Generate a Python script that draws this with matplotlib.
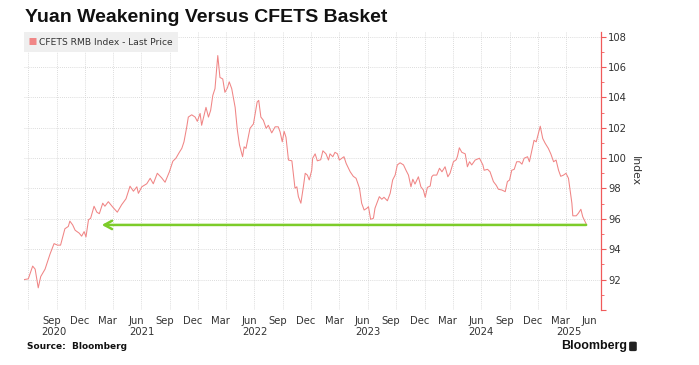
import matplotlib
matplotlib.use("Agg")
import matplotlib.pyplot as plt
import matplotlib.dates as mdates
from matplotlib.patches import FancyBboxPatch
from matplotlib.ticker import FixedLocator, FuncFormatter
import numpy as np
import pandas as pd

# CFETS RMB index (days after 2020-07-01, index level)
base_date = pd.Timestamp("2020-07-01")
days = [
    -13, 1, 15, 23, 33, 41, 55, 71, 84, 95, 105, 119, 130, 135, 144, 152, 165, 173, 181, 187,
    195, 202, 213, 222, 230, 241, 248, 259, 273, 288, 302, 316, 329, 340, 351, 356, 367, 383,
    394, 404, 417, 431, 442, 456, 467, 477, 488, 496, 503, 512, 517, 528, 539, 546, 555, 560,
    574, 582, 589, 596, 603, 612, 619, 628, 635, 643, 649, 657, 668, 675, 682, 692, 697, 703,
    716, 727, 739, 744, 751, 759, 768, 775, 786, 797, 807, 813, 820, 826, 832, 840, 851, 861,
    867, 872, 880, 888, 894, 901, 907, 915, 918, 926, 933, 944, 951, 961, 969, 974, 983, 990,
    998, 1004, 1012, 1019, 1026, 1039, 1049, 1058, 1069, 1076, 1084, 1093, 1098, 1105, 1114,
    1119, 1127, 1133, 1141, 1148, 1159, 1168, 1176, 1184, 1191, 1200, 1211, 1219, 1227, 1235,
    1241, 1248, 1259, 1267, 1275, 1281, 1288, 1297, 1302, 1307, 1318, 1327, 1335, 1345, 1354,
    1361, 1372, 1381, 1385, 1391, 1399, 1410, 1417, 1424, 1431, 1442, 1456, 1467, 1471, 1482,
    1490, 1501, 1510, 1517, 1528, 1539, 1546, 1553, 1560, 1568, 1576, 1585, 1593, 1600, 1611,
    1617, 1625, 1632, 1639, 1646, 1652, 1660, 1668, 1678, 1686, 1695, 1703, 1711, 1718, 1727,
    1735, 1743, 1748, 1754, 1757, 1768, 1775, 1783, 1789, 1800,
]
index_values = [
    92.0, 92.05, 92.89, 92.69, 91.46, 92.2, 92.69, 93.68, 94.37, 94.27, 94.27, 95.35, 95.5,
    95.85, 95.6, 95.25, 95.06, 94.86, 95.16, 94.81, 95.94, 96.04, 96.83, 96.44, 96.34, 97.03,
    96.83, 97.13, 96.78, 96.44, 96.93, 97.32, 98.15, 97.82, 98.11, 97.68, 98.11, 98.31, 98.67,
    98.31, 99.0, 98.7, 98.41, 99.1, 99.79, 99.99, 100.38, 100.64, 101.07, 102.06, 102.7,
    102.85, 102.7, 102.42, 102.94, 102.16, 103.34, 102.7, 103.14, 104.13, 104.57, 106.75,
    105.31, 105.21, 104.33, 104.62, 105.02, 104.57, 103.34, 101.86, 100.87, 100.09, 100.74,
    100.64, 101.96, 102.25, 103.69, 103.8, 102.7, 102.49, 101.96, 102.16, 101.66, 102.06,
    102.06, 101.72, 101.07, 101.76, 101.37, 99.87, 99.82, 98.02, 98.11, 97.46, 97.03, 98.11,
    99.0, 98.88, 98.56, 99.2, 99.99, 100.28, 99.82, 99.89, 100.48, 100.28, 99.87, 100.28,
    100.09, 100.38, 100.28, 99.87, 99.99, 100.09, 99.65, 99.1, 98.8, 98.67, 98.02, 97.03,
    96.58, 96.7, 96.8, 95.97, 96.04, 96.7, 97.13, 97.46, 97.29, 97.42, 97.19, 97.68, 98.56,
    98.88, 99.55, 99.69, 99.55, 99.2, 98.88, 98.11, 98.61, 98.29, 98.77, 98.11, 97.9, 97.42,
    98.07, 98.16, 98.77, 98.88, 98.88, 99.33, 99.1, 99.43, 98.77, 99.0, 99.76, 99.89, 100.12,
    100.68, 100.38, 100.28, 99.43, 99.76, 99.55, 99.87, 99.99, 99.55, 99.2, 99.26, 99.1,
    98.45, 98.21, 97.95, 97.9, 97.79, 98.45, 98.56, 99.2, 99.26, 99.76, 99.76, 99.6, 99.99,
    100.09, 99.76, 100.52, 101.17, 101.07, 101.62, 102.1, 101.29, 100.97, 100.64, 100.28,
    99.76, 99.87, 99.2, 98.8, 98.88, 99.0, 98.67, 97.9, 97.03, 96.2, 96.2, 96.37, 96.63,
    96.14, 95.67,
]

# green reference arrow: from the latest print back to the same level in early 2021
arrow_level = 95.6
arrow_from_day = 1800
arrow_to_day = 238

y_ticks = [90, 92, 94, 96, 98, 100, 102, 104, 106, 108]
month_labels = ["Sep", "Dec", "Mar", "Jun"]
years = [2020, 2021, 2022, 2023, 2024, 2025]

dates = base_date + pd.to_timedelta(days, unit="D")
x_start = base_date - pd.Timedelta(days=13)
x_end = base_date + pd.Timedelta(days=1847)

line_red = "#f08585"
axis_red = "#f05a5a"
text_col = "#333333"
grid_col = "#d0d0d0"

fig = plt.figure(figsize=(6.99, 3.65), dpi=100)
ax = fig.add_axes([0.0343, 0.1507, 0.8251, 0.7616])

ax.plot(dates, index_values, color=line_red, lw=0.75, label="CFETS RMB Index - Last Price")

ax.annotate("", xy=(base_date + pd.Timedelta(days=arrow_to_day), arrow_level),
            xytext=(base_date + pd.Timedelta(days=arrow_from_day), arrow_level),
            arrowprops=dict(arrowstyle="->,head_length=0.55,head_width=0.3",
                            color="#7dcc2a", lw=1.8, shrinkA=0, shrinkB=0))

ax.set_xlim(x_start, x_end)
ax.set_ylim(90, 108.3)

# quarter boundaries as gridlines, month names centred mid-month
quarter_starts = pd.date_range("2020-07-01", "2025-04-01", freq="QS")
ax.xaxis.set_major_locator(FixedLocator(mdates.date2num(quarter_starts)))
ax.xaxis.set_major_formatter(FuncFormatter(lambda v, p: ""))
mid_months = [d + pd.Timedelta(days=14) for d in pd.date_range("2020-09-01", "2025-06-01", freq="MS")
              if d.strftime("%b") in month_labels]
ax.set_xticks(mdates.date2num(mid_months), minor=True)
ax.set_xticklabels([d.strftime("%b") for d in mid_months], minor=True)
ax.tick_params(axis="x", which="both", length=0, labelsize=7.2, labelcolor=text_col, pad=4)

for yr in years:
    lo = max(pd.Timestamp(f"{yr}-01-01"), x_start)
    hi = min(pd.Timestamp(f"{yr}-12-31"), x_end)
    mid = lo + (hi - lo) / 2
    ax.text(mid, -0.079, str(yr), transform=ax.get_xaxis_transform(),
            ha="center", va="center", fontsize=7.2, color=text_col)

ax.yaxis.tick_right()
ax.yaxis.set_label_position("right")
ax.set_yticks(y_ticks)
ax.yaxis.set_major_formatter(FuncFormatter(lambda v, p: "" if v < 91 else f"{v:.0f}"))
ax.set_yticks(np.arange(91, 108, 2), minor=True)
ax.tick_params(axis="y", which="major", length=3.5, width=0.8, color=axis_red,
               labelsize=7.2, labelcolor=text_col, pad=2)
ax.tick_params(axis="y", which="minor", length=2, width=0.6, color=axis_red)
ax.set_ylabel("Index", rotation=270, fontsize=7.8, color=text_col, labelpad=9)

ax.grid(True, which="major", color=grid_col, lw=0.6, ls=(0, (1, 1.5)))
for side in ["top", "left", "bottom"]:
    ax.spines[side].set_visible(False)
ax.spines["right"].set_color(axis_red)
ax.spines["right"].set_linewidth(0.9)

leg = ax.legend(loc="upper left", frameon=True, fancybox=False, borderaxespad=0,
                handlelength=0.7, handletextpad=0.3, borderpad=0.6, fontsize=6.6,
                labelcolor=text_col)
leg.get_frame().set_facecolor("#efefef")
leg.get_frame().set_edgecolor("none")
leg.get_frame().set_alpha(1)
for h in leg.legend_handles:
    h.set_linewidth(5)
    h.set_solid_capstyle("butt")

fig.text(0.036, 0.951, "Yuan Weakening Versus CFETS Basket", fontsize=14, fontweight="bold",
         family="Liberation Sans", ha="left", va="center", color="#111111")
fig.text(0.039, 0.052, "Source:  Bloomberg", fontsize=6.5, fontweight="bold",
         ha="left", va="center", color="#111111")
fig.text(0.897, 0.052, "Bloomberg", fontsize=9, fontweight="bold", family="Liberation Sans",
         ha="right", va="center", color="#111111")
fig.patches.append(FancyBboxPatch((0.9, 0.038), 0.011, 0.026, transform=fig.transFigure,
                                  boxstyle="round,pad=0,rounding_size=0.003",
                                  facecolor="#222222", edgecolor="none"))

fig.savefig("out.png", dpi=100)
